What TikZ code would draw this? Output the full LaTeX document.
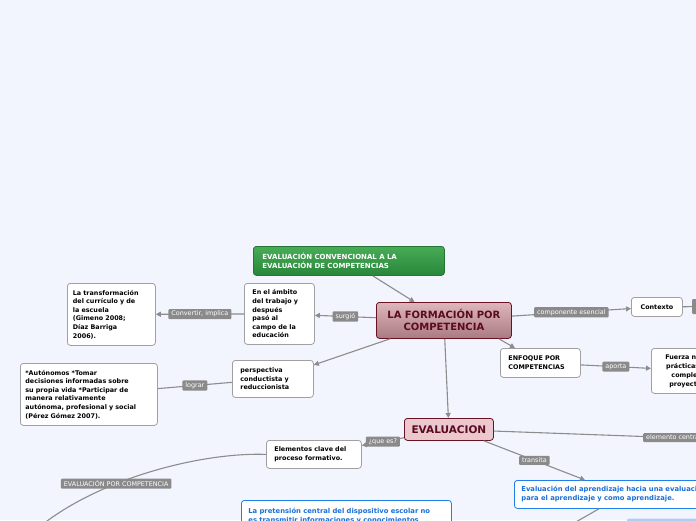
\documentclass[tikz,border=0pt]{standalone}
\usepackage{fontspec}
\setmainfont{DejaVu Sans}
\usepackage{xcolor}
\usetikzlibrary{arrows.meta}

\definecolor{bgpage}{RGB}{243,245,254}
\definecolor{linegray}{RGB}{140,140,140}
\definecolor{boxgray}{RGB}{160,160,160}
\definecolor{lblgray}{RGB}{138,138,138}
\definecolor{wine}{RGB}{104,18,36}
\definecolor{winetext}{RGB}{92,10,30}
\definecolor{mauvetop}{RGB}{222,182,188}
\definecolor{mauvebot}{RGB}{170,122,130}
\definecolor{pinkfill}{RGB}{234,200,206}
\definecolor{greentop}{RGB}{72,172,86}
\definecolor{greenbot}{RGB}{40,134,58}
\definecolor{greenedge}{RGB}{36,118,50}
\definecolor{bluetext}{RGB}{26,112,216}
\definecolor{blueedge}{RGB}{30,128,232}
\definecolor{bluefill}{RGB}{176,206,244}

\begin{document}
\begin{tikzpicture}[x=1pt,y=-1pt,>={Triangle[length=5pt,width=5pt]},line join=round,
  box/.style={draw=boxgray,fill=white,rounded corners=3pt,line width=0.8pt,anchor=north west,
    inner xsep=8pt,inner ysep=2pt,align=left,font=\fontsize{6.4}{8.6}\selectfont\bfseries},
  bluebox/.style={box,draw=blueedge,text=bluetext,font=\fontsize{6.8}{9}\selectfont\bfseries},
  rootbox/.style={draw=wine,line width=0.8pt,rounded corners=3pt,anchor=north west,
    inner xsep=6pt,inner ysep=2pt,align=center,text=winetext,font=\fontsize{10}{12}\selectfont\bfseries},
  greenbox/.style={draw=greenedge,line width=0.8pt,rounded corners=3pt,anchor=north west,
    top color=greentop,bottom color=greenbot,text=white,inner xsep=9pt,inner ysep=2pt,
    align=left,font=\fontsize{7}{8.6}\selectfont\bfseries},
  conn/.style={draw=linegray,line width=1.1pt},
  lbl/.style={fill=lblgray,text=white,rounded corners=1pt,inner xsep=3pt,inner ysep=2pt,
    font=\fontsize{6.4}{7}\selectfont}]
  \useasboundingbox (0,0) rectangle (696,520);
  \clip (0,0) rectangle (696,520);
  \fill[bgpage] (0,0) rectangle (696,520);

  % main topics
  \node[rootbox,top color=mauvetop,bottom color=mauvebot,text width=123pt,minimum height=36pt] (formacion) at (376,302) {LA FORMACIÓN POR\\COMPETENCIA};
  \node[rootbox,fill=pinkfill,text width=77pt,minimum height=22pt,font=\fontsize{10.5}{12}\selectfont\bfseries] (evaluacion) at (404,418) {EVALUACION};
  \node[greenbox,text width=173pt,minimum height=29pt] (convencional) at (253,246) {EVALUACIÓN CONVENCIONAL A LA\\EVALUACIÓN DE COMPETENCIAS};

  % left branch
  \node[box,text width=54pt,minimum height=61pt] (ambito) at (244,283) {En el ámbito\\del trabajo y\\después\\pasó al\\campo de la\\educación};
  \node[box,text width=77pt,minimum height=62pt,inner xsep=5.5pt] (curriculo) at (67,283) {La transformación\\del currículo y de\\la escuela\\(Gimeno 2008;\\Díaz Barriga\\2006).};
  \node[box,text width=65pt,minimum height=37pt] (perspectiva) at (232,360) {perspectiva\\conductista y\\reduccionista};
  \node[box,text width=127pt,minimum height=62pt,inner xsep=5pt] (autonomos) at (20,363) {*Autónomos *Tomar\\decisiones informadas sobre\\su propia vida *Participar de\\manera relativamente\\autónoma, profesional y social\\(Pérez Gómez 2007).};
  \node[box,text width=79pt,minimum height=28pt] (elementos) at (266,440) {Elementos clave del\\proceso formativo.};

  % right branch
  \node[box,text width=37pt,minimum height=19pt,inner xsep=7pt,align=center] (contexto) at (631,297) {Contexto};
  \node[lbl,anchor=west,minimum height=15pt] (contextonext) at (692,306.5) {\phantom{componente}};
  \node[box,text width=64pt,minimum height=29pt] (enfoque) at (500,348) {ENFOQUE POR\\COMPETENCIAS};
  \node[box,text width=84pt,minimum height=45pt,align=center,font=\fontsize{6.4}{9}\selectfont\bfseries] (fuerza) at (651,348) {Fuerza necesaria en\\prácticas sociales y\\complejas de los\\proyectos de vida};
  \node[bluebox,text width=216pt,minimum height=28pt,inner xsep=7pt] (aprendizaje) at (514,480) {Evaluación del aprendizaje hacia una evaluación\\para el aprendizaje y como aprendizaje.};
  \node[bluebox,text width=196pt,inner ysep=7.5pt,inner xsep=7pt] (pretension) at (241,500) {La pretensión central del dispositivo escolar no\\es transmitir informaciones y conocimientos\\};
  \fill[bluefill,rounded corners=2pt] (627,518.6) rectangle (740,540);

  % connectors
  \draw[conn,->] (convencional) -- (formacion);
  \draw[conn,->] (formacion) -- node[lbl]{surgió} (ambito);
  \draw[conn,->] (ambito) -- node[lbl]{Convertir, implica} (curriculo);
  \draw[conn,->] (formacion) -- (perspectiva);
  \draw[conn] (perspectiva) -- node[lbl]{lograr} (autonomos);
  \draw[conn,->] (formacion) -- node[lbl]{componente esencial} (contexto);
  \draw[conn] (contexto) -- (contextonext);
  \draw[conn,->] ([xshift=-13pt]formacion.south east) -- ([xshift=15pt]enfoque.north west);
  \draw[conn,->] (enfoque) -- node[lbl]{aporta} (fuerza);
  \draw[conn,->] (formacion) -- (evaluacion);
  \draw[conn,->] (evaluacion) -- node[lbl]{¿que es?} (elementos);
  \coordinate (central) at (740,440);
  \draw[conn] (evaluacion) -- node[lbl,pos=0.73]{elemento central} (central);
  \draw[conn,->] ([xshift=-10pt]evaluacion.south east) -- node[lbl]{transita} ([xshift=71pt]aprendizaje.north west);
  \coordinate (abajo) at (560,531);
  \draw[conn,->] ([xshift=85pt]aprendizaje.south west) -- (abajo);
  \coordinate (porcomp) at (30,535);
  \draw[conn] (elementos.west) .. controls (200,452) and (90,480) .. node[lbl,pos=0.615]{EVALUACIÓN POR COMPETENCIA} (porcomp);
\end{tikzpicture}
\end{document}
